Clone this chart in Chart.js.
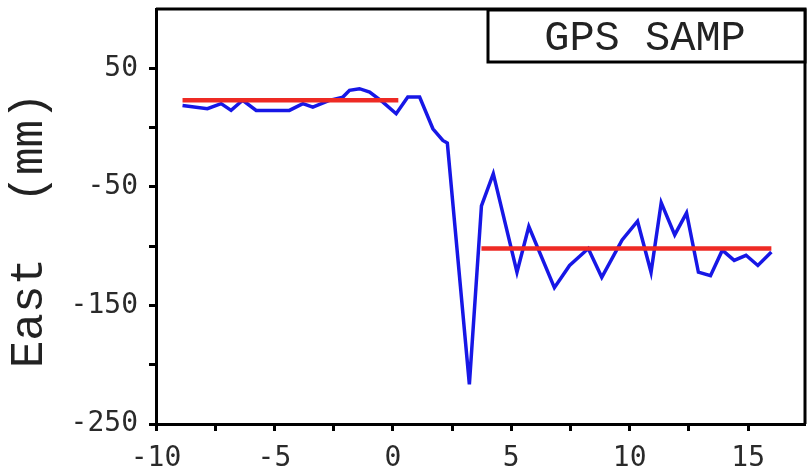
<!DOCTYPE html>
<html>
<head>
<meta charset="utf-8">
<script src="https://cdn.jsdelivr.net/npm/chart.js@4/dist/chart.umd.min.js"></script>
<style>
	html, body { margin: 0; padding: 0; background: #fff; }
	#wrap { width: 807px; height: 473px; }
</style>
</head>
<body>
<div id="wrap"><canvas id="eastChart"></canvas></div>
<script>
// GPS SAMP east component (mm) vs time
const eastX = [-8.88, -7.83, -7.25, -6.83, -6.34, -5.77, -4.37, -3.80, -3.38, -2.68,
	-2.11, -1.83, -1.41, -0.98, -0.42, 0.14, 0.63, 1.13, 1.69, 2.11,
	2.30, 3.23, 3.74, 4.24, 5.24, 5.74, 6.82, 7.46, 8.25, 8.82,
	9.68, 10.33, 10.90, 11.33, 11.90, 12.40, 12.90, 13.41, 13.91, 14.41,
	14.91, 15.41, 15.98];
const eastY = [18.7, 15.9, 20.2, 14.5, 23.0, 14.5, 14.5, 20.2, 17.3, 23.0,
	25.7, 31.4, 32.8, 30.0, 21.5, 11.7, 25.7, 25.7, -1.0, -10.9,
	-13.1, -216.6, -66.1, -38.9, -122.0, -83.4, -135.0, -116.3, -102.0, -126.3,
	-94.8, -79.0, -122.0, -63.3, -90.5, -71.9, -122.0, -124.9, -103.4, -112.0,
	-107.7, -116.3, -104.9];

// mean levels before and after
const preX = [-8.88, 0.23];
const preY = [23, 23];
const postX = [3.74, 15.98];
const postY = [-102, -102];

const xTickValues = [-10, -7.5, -5, -2.5, 0, 2.5, 5, 7.5, 10, 12.5, 15];
const xLabelled = [-10, -5, 0, 5, 10, 15];
const yTickValues = [50, 0, -50, -100, -150, -200, -250];
const yLabelled = [50, -50, -150, -250];
const stationLabel = "GPS SAMP";

function pts(xs, ys) {
	return xs.map((x, i) => ({ x, y: ys[i] }));
}

const frameAndLabel = {
	id: "frameAndLabel",
	afterDraw(chart) {
		const { ctx, chartArea: a } = chart;
		ctx.save();
		ctx.strokeStyle = "#000";
		ctx.lineWidth = 3;
		ctx.beginPath();
		ctx.moveTo(a.left, a.top);
		ctx.lineTo(a.right, a.top);
		ctx.lineTo(a.right, a.bottom);
		ctx.stroke();

		const bx = a.left + 332;
		const by = a.top + 1;
		ctx.fillStyle = "#fff";
		ctx.fillRect(bx, by, a.right - bx, 52);
		ctx.strokeRect(bx, by, a.right - bx, 52);

		ctx.fillStyle = "#222";
		ctx.font = "42px 'Liberation Mono'";
		ctx.textAlign = "center";
		ctx.textBaseline = "middle";
		ctx.fillText(stationLabel, a.left + 489, by + 29);
		ctx.restore();
	},
};

const tickFont = { family: "'DejaVu Sans Mono'", size: 28 };

new Chart(document.getElementById("eastChart"), {
	type: "line",
	data: {
		datasets: [
			{
				data: pts(eastX, eastY),
				borderColor: "#1717e6",
				borderWidth: 3.5,
				pointRadius: 0,
				tension: 0,
				order: 2,
			},
			{
				data: pts(preX, preY),
				borderColor: "#ee2a24",
				borderWidth: 4.5,
				pointRadius: 0,
				order: 1,
			},
			{
				data: pts(postX, postY),
				borderColor: "#ee2a24",
				borderWidth: 4.5,
				pointRadius: 0,
				order: 1,
			},
		],
	},
	options: {
		responsive: true,
		maintainAspectRatio: false,
		animation: false,
		layout: { padding: { top: 9, right: 2, left: 0, bottom: 0 } },
		plugins: {
			legend: { display: false },
			tooltip: { enabled: false },
		},
		scales: {
			x: {
				type: "linear",
				min: -10,
				max: 17.4,
				afterBuildTicks: (s) => {
					s.ticks = xTickValues.map((value) => ({ value }));
				},
				afterFit: (s) => {
					s.height = 49;
					s.paddingRight = 0;
				},
				ticks: {
					autoSkip: false,
					maxRotation: 0,
					padding: 11,
					color: "#2a2a2a",
					font: tickFont,
					callback: (v) => (xLabelled.includes(v) ? String(v) : ""),
				},
				grid: {
					drawOnChartArea: false,
					tickLength: 7,
					tickWidth: 3,
					color: "#000",
				},
				border: { color: "#000", width: 3 },
			},
			y: {
				min: -250,
				max: 100,
				afterBuildTicks: (s) => {
					s.ticks = yTickValues.map((value) => ({ value }));
				},
				afterFit: (s) => {
					s.width = 156;
					s.paddingTop = 0;
					s.paddingBottom = 0;
				},
				ticks: {
					autoSkip: false,
					padding: 11,
					color: "#2a2a2a",
					font: tickFont,
					callback: (v) => (yLabelled.includes(v) ? String(v) : ""),
				},
				grid: {
					drawOnChartArea: false,
					tickLength: 7,
					tickWidth: 3,
					color: "#000",
				},
				border: { color: "#000", width: 3 },
				title: {
					display: true,
					text: "East  (mm) ",
					color: "#222",
					font: { family: "'Liberation Mono'", size: 46 },
					padding: { top: 2, bottom: 0 },
				},
			},
		},
	},
	plugins: [frameAndLabel],
});
</script>
</body>
</html>
